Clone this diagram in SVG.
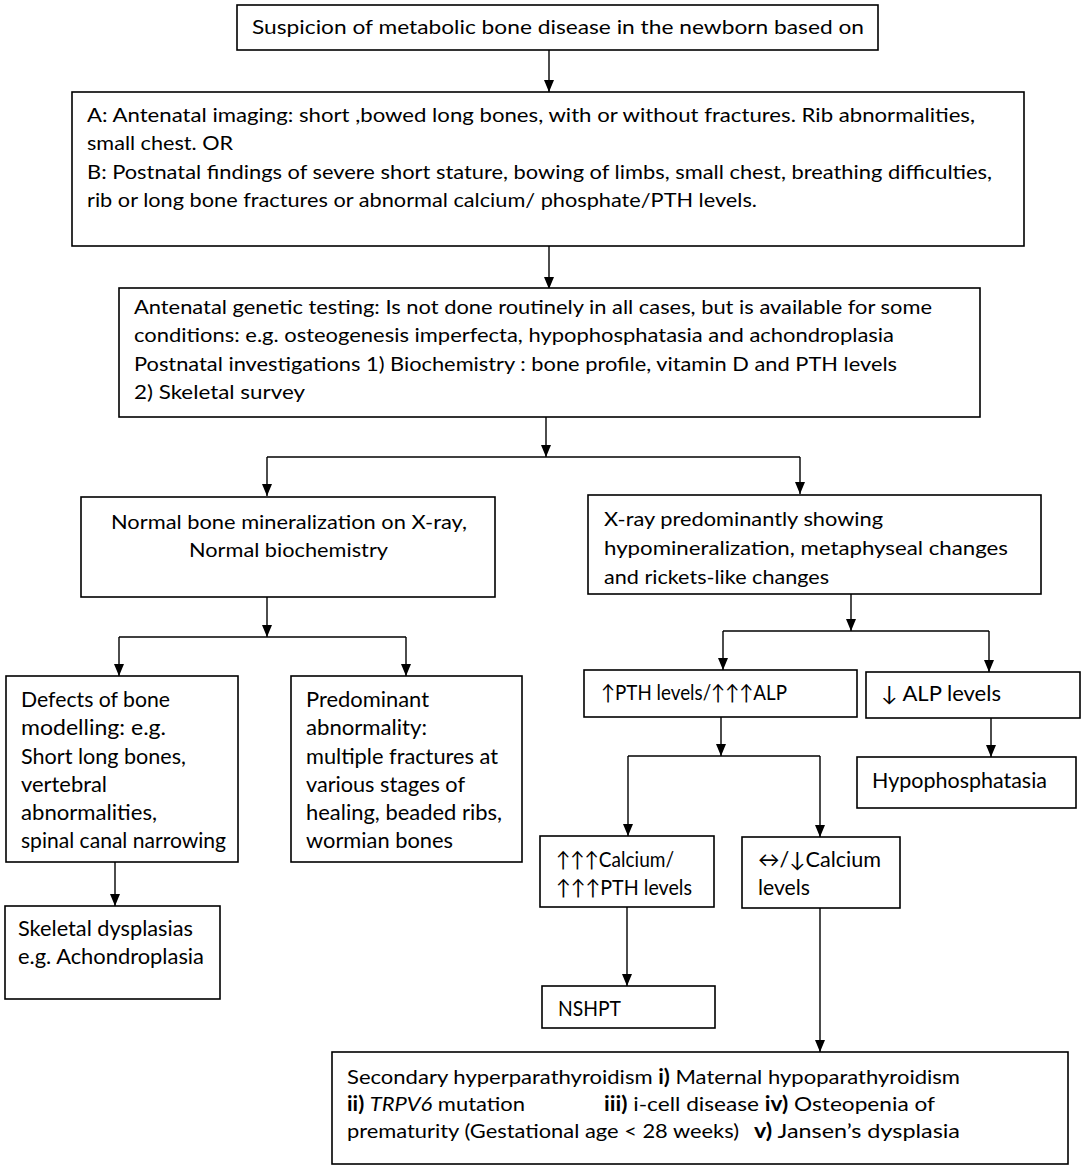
<svg xmlns="http://www.w3.org/2000/svg" width="1084" height="1168" viewBox="0 0 1084 1168">
<style>
  .box { fill: #ffffff; stroke: #000000; stroke-width: 1.6; }
  .t { font-family: Lato, "Open Sans", "DejaVu Sans", sans-serif; font-size: 20px; fill: #000000; }
  .s { font-family: Lato, "Open Sans", "DejaVu Sans", sans-serif; font-size: 21px; fill: #000000; }
  .c { fill: none; stroke: #000000; stroke-width: 1.4; }
  .b { font-weight: bold; }
  .i { font-style: italic; }
</style>
<defs>
  <marker id="ah" viewBox="0 0 12 10" refX="12" refY="5" markerWidth="12" markerHeight="10" markerUnits="userSpaceOnUse" orient="auto">
    <path d="M0,0 L12,5 L0,10 z" fill="#000000"/>
  </marker>
</defs>
<rect width="1084" height="1168" fill="#ffffff"/>

<g id="connectors">
  <path class="c" d="M549,50 V92" marker-end="url(#ah)"/>
  <path class="c" d="M549,246 V289" marker-end="url(#ah)"/>
  <path class="c" d="M546,417 V457" marker-end="url(#ah)"/>
  <path class="c" d="M267,457 H800"/>
  <path class="c" d="M267,457 V496" marker-end="url(#ah)"/>
  <path class="c" d="M800,457 V494" marker-end="url(#ah)"/>
  <path class="c" d="M267,597 V637" marker-end="url(#ah)"/>
  <path class="c" d="M119,637 H406"/>
  <path class="c" d="M119,637 V676" marker-end="url(#ah)"/>
  <path class="c" d="M406,637 V676" marker-end="url(#ah)"/>
  <path class="c" d="M851,594 V631" marker-end="url(#ah)"/>
  <path class="c" d="M723,631 H989"/>
  <path class="c" d="M723,631 V670" marker-end="url(#ah)"/>
  <path class="c" d="M989,631 V672" marker-end="url(#ah)"/>
  <path class="c" d="M991,718 V757" marker-end="url(#ah)"/>
  <path class="c" d="M721,717 V756" marker-end="url(#ah)"/>
  <path class="c" d="M628,756 H820"/>
  <path class="c" d="M628,756 V836" marker-end="url(#ah)"/>
  <path class="c" d="M820,756 V837" marker-end="url(#ah)"/>
  <path class="c" d="M627,907 V986" marker-end="url(#ah)"/>
  <path class="c" d="M820,908 V1052" marker-end="url(#ah)"/>
  <path class="c" d="M115,862 V906" marker-end="url(#ah)"/>
</g>

<g id="n-suspicion">
  <rect class="box" x="237" y="5" width="641" height="45"/>
  <text class="t" x="252" y="34" textLength="612" lengthAdjust="spacingAndGlyphs">Suspicion of metabolic bone disease in the newborn based on</text>
</g>

<g id="n-findings">
  <rect class="box" x="72" y="92" width="952" height="154"/>
  <text class="t" x="87" y="122" textLength="888" lengthAdjust="spacingAndGlyphs">A: Antenatal  imaging: short ,bowed  long bones, with or without fractures. Rib abnormalities,</text>
  <text class="t" x="87" y="150" textLength="146" lengthAdjust="spacingAndGlyphs">small chest. OR</text>
  <text class="t" x="87" y="179" textLength="905" lengthAdjust="spacingAndGlyphs">B: Postnatal findings of severe short stature, bowing of limbs, small chest, breathing difficulties,</text>
  <text class="t" x="87" y="207" textLength="670" lengthAdjust="spacingAndGlyphs">rib or long bone fractures or abnormal calcium/ phosphate/PTH levels.</text>
</g>

<g id="n-investigations">
  <rect class="box" x="119" y="288" width="861" height="129"/>
  <text class="t" x="134" y="314" textLength="798" lengthAdjust="spacingAndGlyphs">Antenatal genetic testing: Is not done routinely in all cases, but is available for some</text>
  <text class="t" x="134" y="342" textLength="760" lengthAdjust="spacingAndGlyphs">conditions: e.g. osteogenesis imperfecta, hypophosphatasia and achondroplasia</text>
  <text class="t" x="134" y="371" textLength="763" lengthAdjust="spacingAndGlyphs">Postnatal investigations 1) Biochemistry : bone profile, vitamin D  and PTH levels</text>
  <text class="t" x="134" y="399" textLength="171" lengthAdjust="spacingAndGlyphs">2)  Skeletal survey</text>
</g>

<g id="n-normal">
  <rect class="box" x="81" y="497" width="414" height="100"/>
  <text class="t" x="111" y="529" textLength="356" lengthAdjust="spacingAndGlyphs">Normal bone mineralization on X-ray,</text>
  <text class="t" x="189" y="557" textLength="199" lengthAdjust="spacingAndGlyphs">Normal biochemistry</text>
</g>

<g id="n-xray">
  <rect class="box" x="588" y="495" width="453" height="99"/>
  <text class="t" x="604" y="526" textLength="279" lengthAdjust="spacingAndGlyphs">X-ray predominantly showing</text>
  <text class="t" x="604" y="555" textLength="404" lengthAdjust="spacingAndGlyphs">hypomineralization,  metaphyseal changes</text>
  <text class="t" x="604" y="584" textLength="225" lengthAdjust="spacingAndGlyphs">and rickets-like changes</text>
</g>

<g id="n-defects">
  <rect class="box" x="6" y="676" width="232" height="186"/>
  <text class="s" x="21" y="707" textLength="149" lengthAdjust="spacingAndGlyphs">Defects of bone</text>
  <text class="s" x="21" y="735" textLength="145" lengthAdjust="spacingAndGlyphs">modelling:  e.g.</text>
  <text class="s" x="21" y="764" textLength="165" lengthAdjust="spacingAndGlyphs">Short long bones,</text>
  <text class="s" x="21" y="792" textLength="86" lengthAdjust="spacingAndGlyphs">vertebral</text>
  <text class="s" x="21" y="820" textLength="136" lengthAdjust="spacingAndGlyphs">abnormalities,</text>
  <text class="s" x="21" y="848" textLength="205" lengthAdjust="spacingAndGlyphs">spinal canal narrowing</text>
</g>

<g id="n-predominant">
  <rect class="box" x="291" y="676" width="231" height="186"/>
  <text class="s" x="306" y="707" textLength="123" lengthAdjust="spacingAndGlyphs">Predominant</text>
  <text class="s" x="306" y="735" textLength="121" lengthAdjust="spacingAndGlyphs">abnormality:</text>
  <text class="s" x="306" y="764" textLength="192" lengthAdjust="spacingAndGlyphs">multiple fractures at</text>
  <text class="s" x="306" y="792" textLength="159" lengthAdjust="spacingAndGlyphs">various stages of</text>
  <text class="s" x="306" y="820" textLength="196" lengthAdjust="spacingAndGlyphs">healing, beaded ribs,</text>
  <text class="s" x="306" y="848" textLength="147" lengthAdjust="spacingAndGlyphs">wormian bones</text>
</g>

<g id="n-skeletal">
  <rect class="box" x="5" y="906" width="215" height="93"/>
  <text class="s" x="18" y="936" textLength="175" lengthAdjust="spacingAndGlyphs">Skeletal dysplasias</text>
  <text class="s" x="18" y="964" textLength="186" lengthAdjust="spacingAndGlyphs">e.g. Achondroplasia</text>
</g>

<g id="n-pth">
  <rect class="box" x="584" y="670" width="273" height="47"/>
  <text class="s" x="601" y="700" textLength="186" lengthAdjust="spacingAndGlyphs">↑PTH levels/↑↑↑ALP</text>
</g>

<g id="n-alp">
  <rect class="box" x="866" y="672" width="214" height="46"/>
  <text class="s" x="881" y="701" textLength="120" lengthAdjust="spacingAndGlyphs">↓ ALP levels</text>
</g>

<g id="n-hypophosphatasia">
  <rect class="box" x="857" y="757" width="219" height="51"/>
  <text class="s" x="872" y="788" textLength="175" lengthAdjust="spacingAndGlyphs">Hypophosphatasia</text>
</g>

<g id="n-hypercalcium">
  <rect class="box" x="540" y="836" width="174" height="71"/>
  <text class="s" x="556" y="867" textLength="118" lengthAdjust="spacingAndGlyphs">↑↑↑Calcium/</text>
  <text class="s" x="556" y="895" textLength="136" lengthAdjust="spacingAndGlyphs">↑↑↑PTH  levels</text>
</g>

<g id="n-normocalcium">
  <rect class="box" x="742" y="837" width="158" height="71"/>
  <text class="s" x="758" y="867" textLength="123" lengthAdjust="spacingAndGlyphs">↔/↓Calcium</text>
  <text class="s" x="758" y="895" textLength="52" lengthAdjust="spacingAndGlyphs">levels</text>
</g>

<g id="n-nshpt">
  <rect class="box" x="542" y="986" width="173" height="42"/>
  <text class="s" x="558" y="1016" textLength="63" lengthAdjust="spacingAndGlyphs">NSHPT</text>
</g>

<g id="n-secondary">
  <rect class="box" x="332" y="1052" width="736" height="112"/>
  <text class="t" x="347" y="1084" textLength="613" lengthAdjust="spacingAndGlyphs">Secondary hyperparathyroidism <tspan class="b">i)</tspan> Maternal hypoparathyroidism</text>
  <text class="t" x="347" y="1111" textLength="178" lengthAdjust="spacingAndGlyphs"><tspan class="b">ii)</tspan> <tspan class="i">TRPV6</tspan> mutation</text>
  <text class="t" x="604" y="1111" textLength="331" lengthAdjust="spacingAndGlyphs"><tspan class="b">iii)</tspan> i-cell disease <tspan class="b">iv)</tspan> Osteopenia of</text>
  <text class="t" x="347" y="1138" textLength="392" lengthAdjust="spacingAndGlyphs">prematurity (Gestational age &lt; 28 weeks)</text>
  <text class="t" x="754" y="1138" textLength="206" lengthAdjust="spacingAndGlyphs"><tspan class="b">v)</tspan> Jansen’s dysplasia</text>
</g>
</svg>
